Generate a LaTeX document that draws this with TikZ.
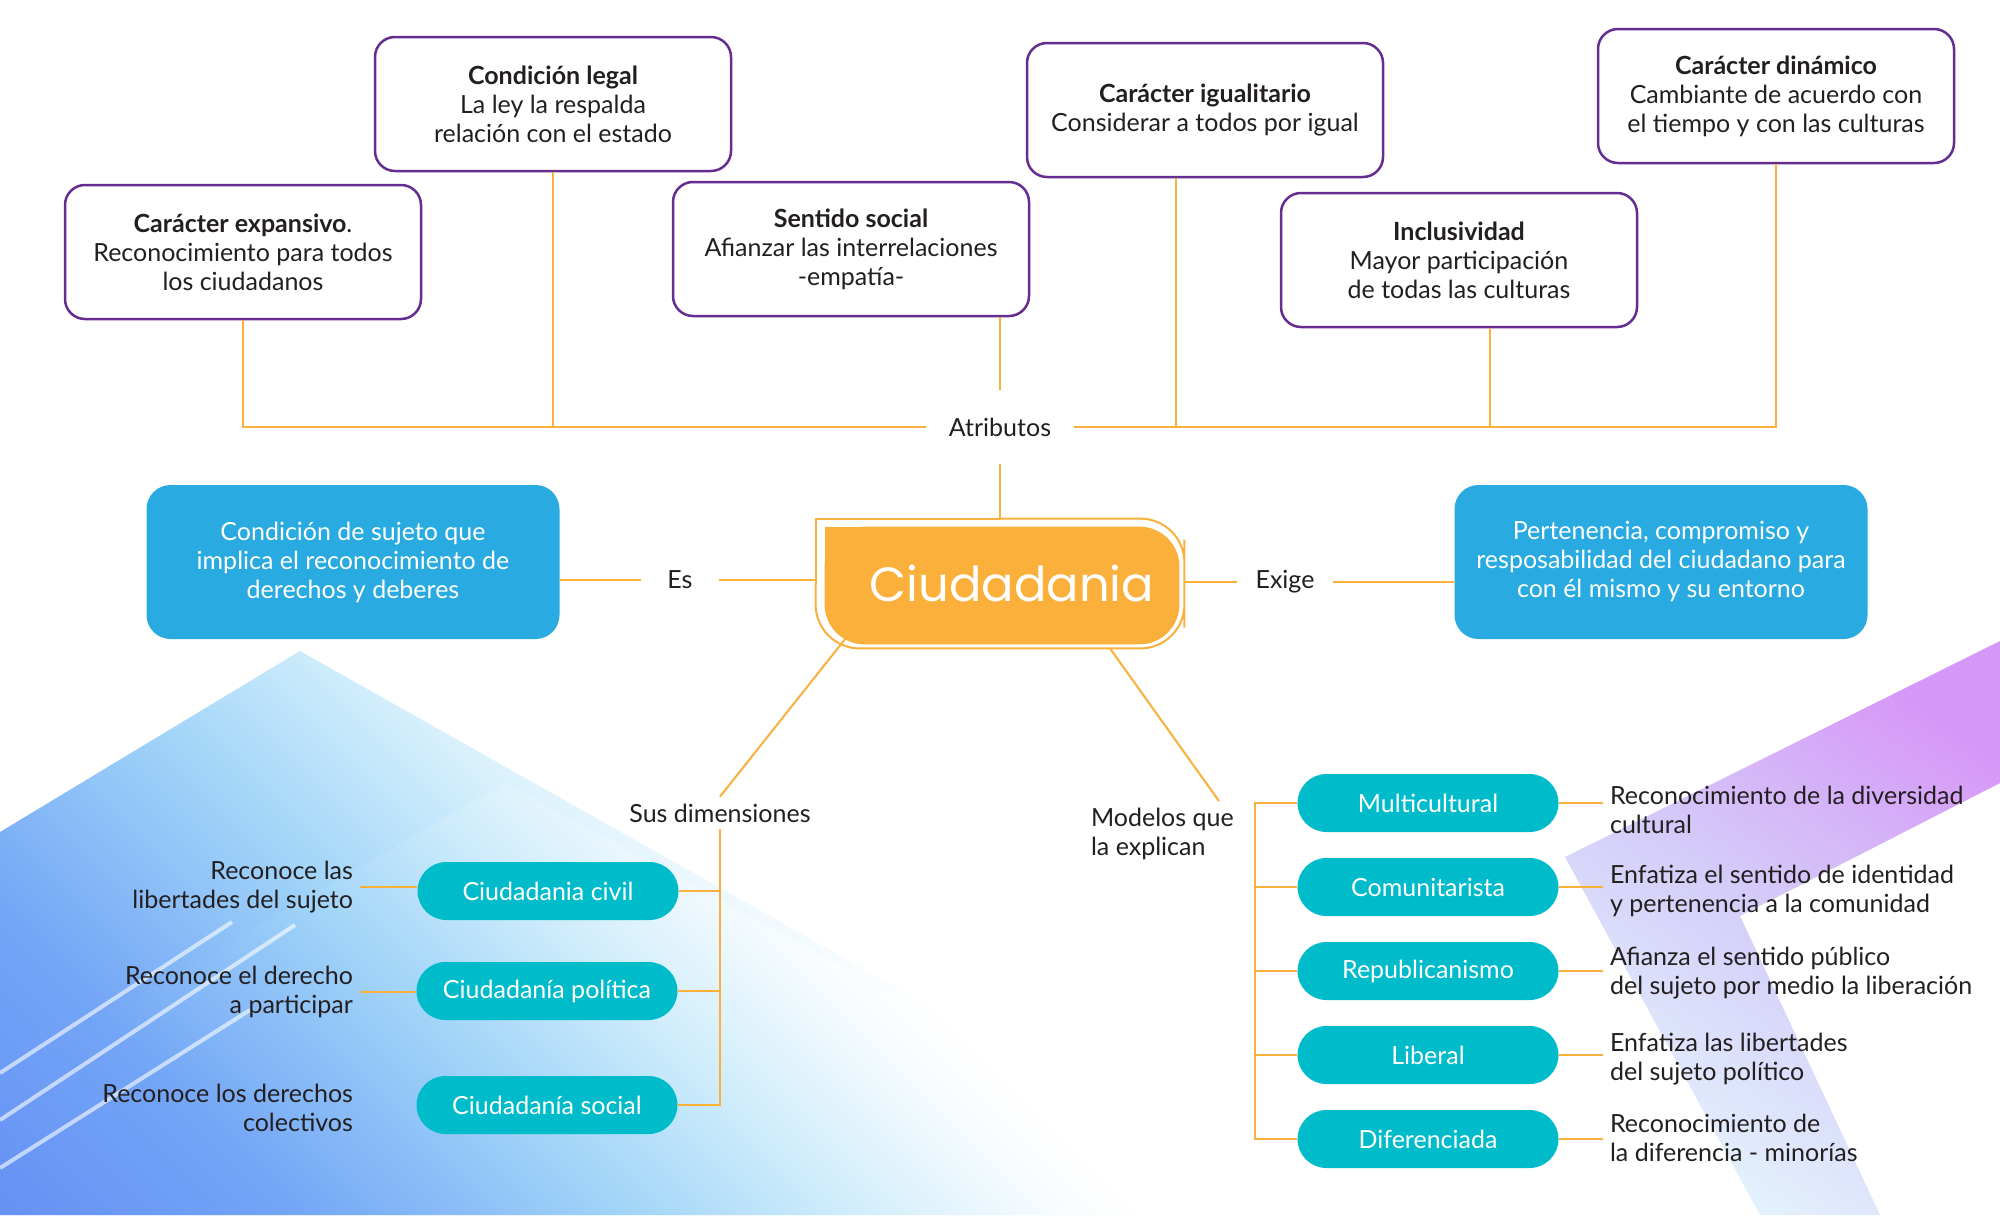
\documentclass[tikz,border=0pt]{standalone}
\usepackage{fontspec}
\setmainfont{Lato}
\newfontfamily\ciudfont{Poppins}
\usetikzlibrary{calc,backgrounds}
\definecolor{naranja}{RGB}{251,176,59}
\definecolor{morado}{RGB}{102,45,145}
\definecolor{celeste}{RGB}{41,171,226}
\definecolor{turquesa}{RGB}{0,188,202}
\definecolor{texto}{RGB}{35,31,32}
\definecolor{azulfondo}{RGB}{85,120,243}
\definecolor{azulmedio}{RGB}{115,165,246}
\definecolor{cianfondo}{RGB}{160,212,248}
\definecolor{cianclaro}{RGB}{212,239,252}
\definecolor{lila}{RGB}{214,152,247}
\definecolor{lilaclaro}{RGB}{212,205,249}
\definecolor{azulclaro}{RGB}{228,243,253}
\pgfdeclareverticalshading{bandaizq}{100bp}{color(0bp)=(azulfondo); color(26bp)=(azulmedio); color(39bp)=(cianfondo); color(49bp)=(cianclaro); color(58bp)=(white); color(100bp)=(white)}

\begin{document}
\begin{tikzpicture}[x=0.5pt,y=-0.5pt,font=\fontsize{12.5}{14.5}\selectfont,text=texto,
  attr/.style={draw=morado,line width=1.25pt,rounded corners=10pt,fill=white,align=center,minimum width=178pt,minimum height=67pt},
  caja/.style={fill=celeste,rounded corners=12pt,text=white,align=center,minimum width=206.5pt,minimum height=77pt},
  pill/.style={fill=turquesa,rounded corners=14.5pt,text=white,minimum width=130.5pt,minimum height=29pt},
  link/.style={draw=naranja,line width=1pt}]
\useasboundingbox (0,0) rectangle (2000,1215);
\node[attr] (exp) at (243,252) {\textbf{Carácter expansivo}.\\Reconocimiento para todos\\los ciudadanos};
\node[attr] (legal) at (553,104) {\textbf{Condición legal}\\La ley la respalda\\relación con el estado};
\node[attr] (social) at (851,249) {\textbf{Sentido social}\\Afianzar las interrelaciones\\-empatía-};
\node[attr] (igual) at (1205,110) {\textbf{Carácter igualitario}\\Considerar a todos por igual};
\node[attr] (incl) at (1459,260) {\textbf{Inclusividad}\\Mayor participación\\de todas las culturas};
\node[attr] (dinam) at (1776,96) {\textbf{Carácter dinámico}\\Cambiante de acuerdo con\\el tiempo y con las culturas};
\node[minimum width=74pt,minimum height=36.5pt] (atrib) at (1000,427) {Atributos};
\node[minimum width=184pt,minimum height=64.5pt,text=white,font=\ciudfont\fontsize{24}{30}\selectfont] (ciud) at (1000,583.5) {\hspace*{12pt}Ciudadania};
\node[caja] (lblue) at (353,562) {Condición de sujeto que\\implica el reconocimiento de\\derechos y deberes};
\node[caja] (rblue) at (1661,562) {Pertenencia, compromiso y\\resposabilidad del ciudadano para\\con él mismo y su entorno};
\node[minimum width=39pt] (es) at (680,580) {Es};
\node[minimum width=48pt] (exige) at (1285,582) {Exige};
\node (susdim) at (720,813) {Sus dimensiones};
\node[anchor=west,align=left] (modelos) at (1084,834) {Modelos que\\la explican};

\draw[link] (exp) |- (atrib.west);
\draw[link] (legal) -- (legal |- atrib.west);
\draw[link] (atrib.east) -| (dinam);
\draw[link] ([xshift=-14.5pt]igual.south) -- ([xshift=-14.5pt]igual.south |- atrib.east);
\draw[link] ([xshift=15.5pt]incl.south) -- ([xshift=15.5pt]incl.south |- atrib.east);
\draw[link] (social.south -| atrib) -- (atrib.north);
\draw[link] (atrib.south) -- (atrib.south |- ciud.north);
\draw[link] (es.west -| lblue.east) -- (es.west) (es.east) -- (es.east -| ciud.west);
\draw[link] (exige.west -| ciud.east) -- (exige.west) (exige.east) -- (exige.east -| rblue.west);
\draw[link] ($(ciud.south west)+(30,-10)$) -- (susdim.north);
\draw[link] ($(ciud.south)+(110,0)$) -- ($(modelos.north west)+(135,0)$);

\node[pill] (civil) at (548,891) {Ciudadania civil};
\node[pill] (pol) at (547,991) {Ciudadanía política};
\node[pill] (soc) at (547,1105) {Ciudadanía social};
\node[anchor=east,align=right] (dcivil) at (360,887) {Reconoce las\\libertades del sujeto};
\node[anchor=east,align=right] (dpol) at (360,992) {Reconoce el derecho\\a participar};
\node[anchor=east,align=right] (dsoc) at (360,1108) {Reconoce los derechos\\colectivos};
\draw[link] (susdim.south) |- (soc.east);
\foreach \n in {civil,pol}
  \draw[link] (\n.east) -- (\n.east -| susdim.south);
\draw[link] (dcivil.east) -- (dcivil.east -| civil.west);
\draw[link] (dpol.east) -- (dpol.east -| pol.west);

\foreach \n/\y/\t in {multi/803/Multicultural,comu/887/Comunitarista,repu/971/Republicanismo,libe/1055/Liberal,dife/1139/Diferenciada}
  \node[pill] (\n) at (1428,\y) {\t};
\foreach \n/\y/\t in {multi/810/{Reconocimiento de la diversidad\\cultural},
  comu/891/{Enfatiza el sentido de identidad\\y pertenencia a la comunidad},
  repu/973/{Afianza el sentido público\\del sujeto por medio la liberación},
  libe/1059/{Enfatiza las libertades\\del sujeto político},
  dife/1138/{Reconocimiento de\\la diferencia - minorías}} {
  \node[anchor=west,align=left] (d\n) at (1603,\y) {\t};
  \draw[link] (\n.east) -- (\n.east -| d\n.west);
}
\coordinate (rbar) at (1255,803);
\draw[link] (multi.west) -| (rbar |- dife.west) -- (dife.west);
\foreach \n in {comu,repu,libe}
  \draw[link] (\n.west) -- (\n.west -| rbar);

\begin{scope}[on background layer]
\fill[white] (0,0) rectangle (2000,1215);
\shade[shading=bandaizq,shading angle=-45]
  (0,832) -- (300,651) -- (1300,1215) -- (0,1215) -- cycle;
\shade[shading=bandaizq,shading angle=-45,opacity=0.5]
  (0,1075) -- (505,783) -- (1300,1215) -- (0,1215) -- cycle;
\draw[white,line width=2pt,opacity=0.6] (232,922) -- (0,1073) (295,925) -- (0,1120) (250,1010) -- (0,1168);
\shade[top color=lila,bottom color=azulclaro,middle color=lilaclaro,shading angle=-35]
  (1565,857) -- (2000,641) -- (2000,783) -- (1740,916) -- (1880,1215) -- (1760,1215) -- cycle;
\fill[naranja,rounded corners=20pt] ($(ciud.north west)+(9,8)$) rectangle ($(ciud.south east)+(-5,-4)$);
\fill[naranja] ($(ciud.north west)+(9,8)$) rectangle (ciud.center);
\draw[naranja,line width=1pt] (ciud.west) |- (ciud.north);
\draw[naranja,line width=1pt,rounded corners=22pt] (ciud.north) -| (ciud.east) |- (ciud.south) -| (ciud.west);
\end{scope}
\end{tikzpicture}
\end{document}
